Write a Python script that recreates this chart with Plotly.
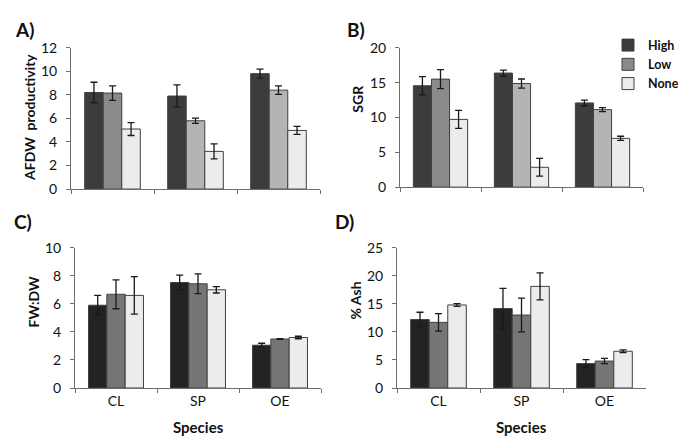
import plotly.graph_objects as go

species = ["CL", "SP", "OE"]
treatments = ["High", "Low", "None"]

afdw = {"High": [8.2, 7.9, 9.8], "Low": [8.15, 5.8, 8.4], "None": [5.1, 3.2, 4.98]}
afdw_err = {"High": [0.87, 0.95, 0.38], "Low": [0.62, 0.22, 0.36], "None": [0.55, 0.64, 0.34]}

sgr = {"High": [14.55, 16.37, 12.08], "Low": [15.5, 14.87, 11.12], "None": [9.72, 2.85, 7.0]}
sgr_err = {"High": [1.3, 0.42, 0.4], "Low": [1.36, 0.65, 0.28], "None": [1.3, 1.28, 0.3]}

fwdw = {"High": [5.9, 7.52, 3.05], "Low": [6.68, 7.43, 3.49], "None": [6.6, 7.0, 3.6]}
fwdw_err = {"High": [0.7, 0.52, 0.14], "Low": [1.03, 0.7, 0.03], "None": [1.34, 0.23, 0.09]}

ash = {"High": [12.2, 14.15, 4.35], "Low": [11.7, 13.0, 4.8], "None": [14.8, 18.1, 6.55]}
ash_err = {"High": [1.3, 3.6, 0.7], "Low": [1.55, 3.0, 0.47], "None": [0.25, 2.4, 0.25]}

# colours (style)
top_colors = {"High": ["#3c3c3c"] * 3, "Low": ["#8a8a8a", "#b4b4b4", "#b4b4b4"], "None": ["#ececec"] * 3}
bot_colors = {"High": ["#232323"] * 3, "Low": ["#767676"] * 3, "None": ["#ececec"] * 3}

W, H = 686, 438
FONT = "Lato"

def px_x(a, b):
    return [a / W, b / W]

def px_y(top, bottom):
    return [1 - bottom / H, 1 - top / H]

fig = go.Figure()

panels = [
    ("x", "y", afdw, afdw_err, top_colors, True),
    ("x2", "y2", sgr, sgr_err, top_colors, False),
    ("x3", "y3", fwdw, fwdw_err, bot_colors, False),
    ("x4", "y4", ash, ash_err, bot_colors, False),
]

for xa, ya, data, err, cols, show in panels:
    for t in treatments:
        fig.add_trace(go.Bar(
            x=species, y=data[t], name=t, xaxis=xa, yaxis=ya,
            marker=dict(color=cols[t], line=dict(color="#404040", width=1)),
            error_y=dict(type="data", array=err[t], color="#1a1a1a", thickness=1.3, width=3.5),
            showlegend=show, legendgroup=t,
        ))

axis_common = dict(showgrid=False, zeroline=False, showline=True, linecolor="#6e6e6e", linewidth=1,
                   ticks="outside", ticklen=4, tickcolor="#6e6e6e",
                   tickfont=dict(family=FONT, size=14, color="#111111"))

xcommon = dict(axis_common, tickson="boundaries", type="category", categoryorder="array",
               categoryarray=species)

fig.update_layout(
    width=W, height=H, margin=dict(l=0, r=0, t=0, b=0),
    paper_bgcolor="white", plot_bgcolor="white",
    barmode="group", bargap=0.33, bargroupgap=0,
    font=dict(family=FONT, size=13, color="#111111"),
    showlegend=True,
    legend=dict(x=600 / W, y=1 - 14 / H, xanchor="left", yanchor="top", bgcolor="rgba(0,0,0,0)",
                font=dict(family=FONT, size=12.5, color="#111111", weight="bold"),
                tracegroupgap=0, itemwidth=30),
    xaxis=dict(xcommon, domain=px_x(63, 312), anchor="y", showticklabels=False),
    yaxis=dict(axis_common, domain=px_y(32, 179), anchor="x", range=[0, 12], dtick=2, ticklabelstandoff=6),
    xaxis2=dict(xcommon, domain=px_x(392, 635), anchor="y2", showticklabels=False),
    yaxis2=dict(axis_common, domain=px_y(32, 177), anchor="x2", range=[0, 20], dtick=5, ticklabelstandoff=6),
    xaxis3=dict(xcommon, domain=px_x(67, 313), anchor="y3"),
    yaxis3=dict(axis_common, domain=px_y(240, 386), anchor="x3", range=[0, 10], dtick=2, ticklabelstandoff=6),
    xaxis4=dict(xcommon, domain=px_x(389, 638), anchor="y4"),
    yaxis4=dict(axis_common, domain=px_y(240, 386), anchor="x4", range=[0, 25], dtick=5, ticklabelstandoff=6),
)

def ann(text, x, y, size=13, angle=0):
    fig.add_annotation(text=text, x=x / W, y=1 - y / H, xref="paper", yref="paper",
                       showarrow=False, textangle=angle, xanchor="center", yanchor="middle",
                       font=dict(family=FONT, size=size, color="#111111", weight="bold"))

ann("A)", 16, 13, size=19)
ann("B)", 348, 13, size=19)
ann("C)", 15, 213, size=19)
ann("D)", 336, 213, size=19)
ann("AFDW  productivity", 22, 105, size=14, angle=-90)
ann("SGR", 350, 85, size=14, angle=-90)
ann("FW:DW", 25, 297, size=14, angle=-90)
ann("% Ash", 348, 295, size=14, angle=-90)
ann("Species", 190, 427, size=15)
ann("Species", 513, 427, size=15)

fig.write_html("out.html")
